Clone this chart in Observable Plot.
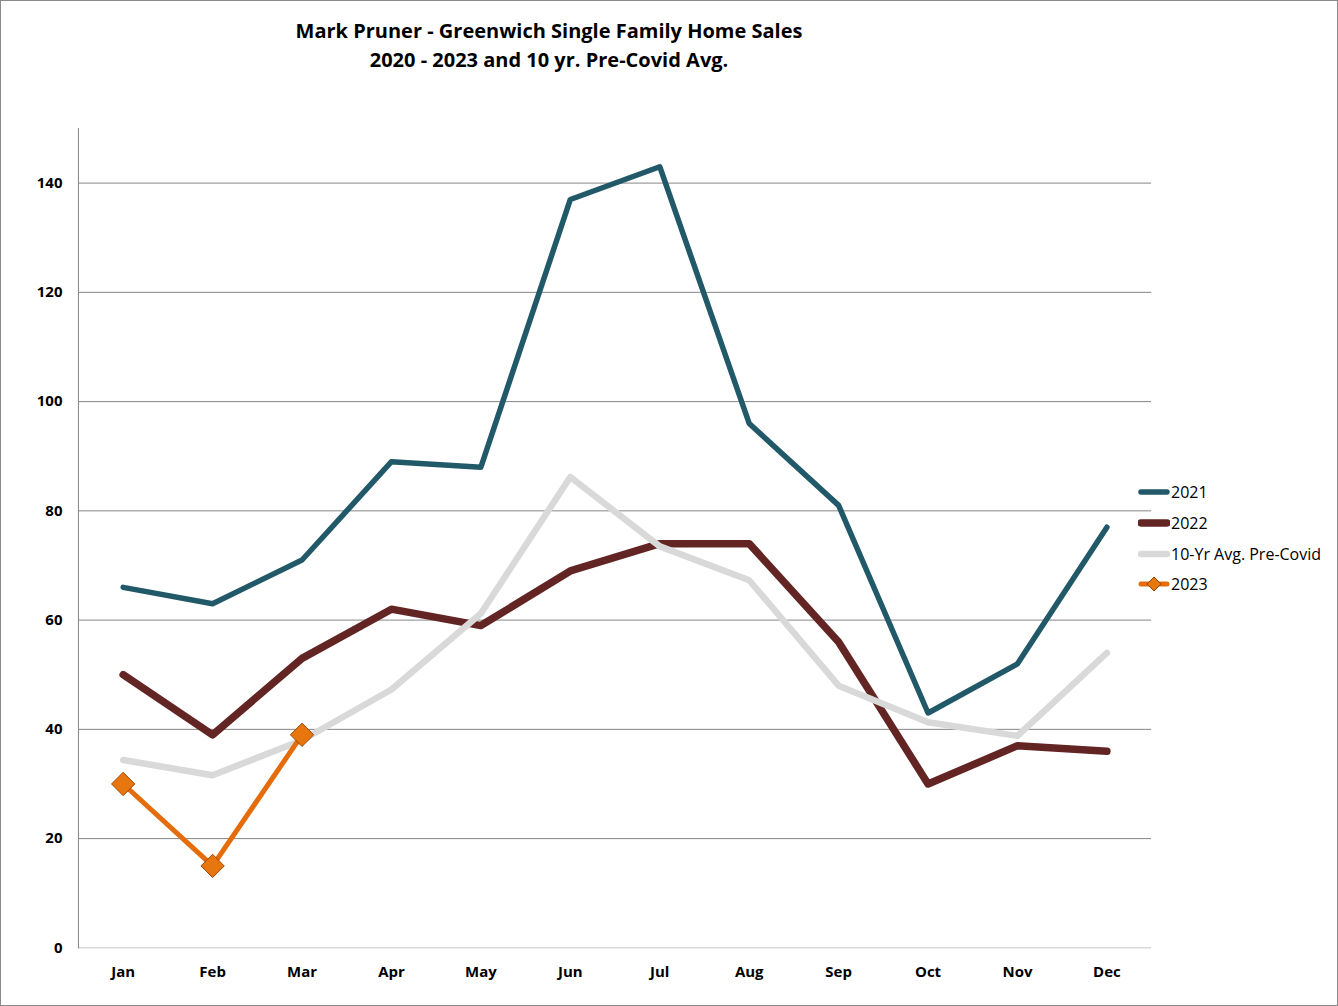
<!DOCTYPE html>
<html>
<head>
<meta charset="utf-8">
<script src="https://cdn.jsdelivr.net/npm/d3@7"></script>
<script src="https://cdn.jsdelivr.net/npm/@observablehq/plot@0.6"></script>
<style>
  html, body { margin: 0; padding: 0; background: #fff; }
  #wrap { position: relative; width: 1338px; height: 1006px; box-sizing: border-box; border: 1px solid #8a8a8a; overflow: hidden; font-family: "Open Sans", sans-serif; }
  #title { position: absolute; left: 248px; width: 600px; top: 15px; text-align: center; font-weight: bold; font-size: 20px; line-height: 29px; color: #000; }
  #chart { position: absolute; left: -1px; top: 99px; }
  #legend { position: absolute; left: 1137px; top: 476px; font-size: 16px; color: #000; }
  .row { height: 30.7px; display: flex; align-items: center; }
  .row svg { margin-right: 1px; }
</style>
</head>
<body>
<div id="wrap">
  <div id="title">Mark Pruner - Greenwich Single Family Home Sales<br>2020 - 2023 and 10 yr. Pre-Covid Avg.</div>
  <div id="chart"></div>
  <div id="legend"></div>
</div>
<script>
const months = ["Jan","Feb","Mar","Apr","May","Jun","Jul","Aug","Sep","Oct","Nov","Dec"];
const sales2021 = [66, 63, 71, 89, 88, 137, 143, 96, 81, 43, 52, 77];
const sales2022 = [50, 39, 53, 62, 59, 69, 74, 74, 56, 30, 37, 36];
const avgPreCovid = [34.4, 31.6, 38, 47.3, 61.2, 86.2, 73.5, 67.3, 48, 41.3, 38.8, 54];
const sales2023 = [30, 15, 39];
const yTicks = [0, 20, 40, 60, 80, 100, 120, 140];
const gridTicks = [20, 40, 60, 80, 100, 120, 140];

const seriesNames = ["2021", "2022", "10-Yr Avg. Pre-Covid", "2023"];
const colors = { "2021": "#215968", "2022": "#632523", "10-Yr Avg. Pre-Covid": "#d9d9d9", "2023": "#e46c0a" };
const widths = { "2021": 5.5, "2022": 7.5, "10-Yr Avg. Pre-Covid": 6.5, "2023": 5 };

const toRows = (name, vals) => vals.map((v, i) => ({ series: name, month: months[i], value: v }));
const d2021 = toRows("2021", sales2021);
const d2022 = toRows("2022", sales2022);
const dAvg = toRows("10-Yr Avg. Pre-Covid", avgPreCovid);
const d2023 = toRows("2023", sales2023);

const lineOf = (data, name) => Plot.line(data, {
  x: "month", y: "value", stroke: colors[name], strokeWidth: widths[name],
  strokeLinecap: "round", strokeLinejoin: "round"
});

const chart = Plot.plot({
  width: 1338,
  height: 906,
  marginLeft: 78,
  marginRight: 186,
  marginTop: 28,
  marginBottom: 58,
  style: { fontFamily: "Open Sans, sans-serif", background: "transparent" },
  x: { type: "point", domain: months, padding: 0.5, round: false },
  y: { domain: [0, 150] },
  marks: [
    Plot.ruleY(gridTicks, { stroke: "#868686", strokeWidth: 1 }),
    Plot.ruleY([0], { stroke: "#d9d9d9", strokeWidth: 1.5 }),
    Plot.frame({ anchor: "left", stroke: "#868686", strokeWidth: 1 }),
    Plot.axisY(yTicks, { tickSize: 0, tickPadding: 16, fontSize: 15, fontWeight: "bold", fill: "#000", label: null }),
    Plot.axisX({ tickSize: 0, tickPadding: 19, fontSize: 15, fontWeight: "bold", fill: "#000", label: null }),
    lineOf(d2021, "2021"),
    lineOf(d2022, "2022"),
    lineOf(dAvg, "10-Yr Avg. Pre-Covid"),
    lineOf(d2023, "2023"),
    Plot.dot(d2023, { x: "month", y: "value", symbol: "diamond2", r: 10.5, fill: "#e8760f", stroke: "#9a4606", strokeWidth: 1 })
  ]
});
document.getElementById("chart").appendChild(chart);

const legend = document.getElementById("legend");
for (const name of seriesNames) {
  const row = document.createElement("div");
  row.className = "row";
  const sw = widths[name];
  let svg = `<svg width="32" height="20" viewBox="0 0 32 20"><line x1="3" y1="10" x2="29" y2="10" stroke="${colors[name]}" stroke-width="${sw}" stroke-linecap="round"/>`;
  if (name === "2023") svg += `<path d="M16 3 L23 10 L16 17 L9 10 Z" fill="#e8760f" stroke="#9a4606" stroke-width="1"/>`;
  svg += `</svg>`;
  row.innerHTML = svg + `<span>${name}</span>`;
  legend.appendChild(row);
}
</script>
</body>
</html>
